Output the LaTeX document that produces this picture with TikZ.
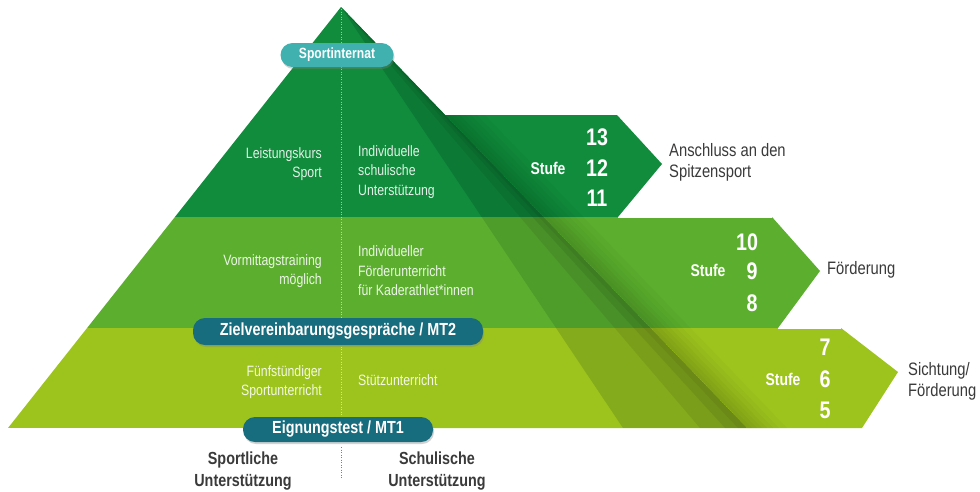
\documentclass[tikz,border=0pt]{standalone}
\usepackage{fontspec}
\setmainfont{Liberation Sans}[FakeStretch=0.82]
\usetikzlibrary{shadows}
\definecolor{gTop}{HTML}{118C3C}
\definecolor{gMid}{HTML}{5CAF2E}
\definecolor{gBot}{HTML}{9DC41D}
\definecolor{fTop}{HTML}{0C7A35}
\definecolor{fMid}{HTML}{4E9C2A}
\definecolor{fBot}{HTML}{84AB1C}
\definecolor{tealL}{HTML}{40B1AF}
\definecolor{tealD}{HTML}{176C7D}
\definecolor{txtgray}{HTML}{3A3A3A}
\begin{document}
\begin{tikzpicture}[x=1pt,y=-1pt,
  pill/.style={rectangle, rounded corners=12pt, text=white, inner sep=0pt,
    drop shadow={shadow xshift=1pt, shadow yshift=-2pt, opacity=0.35}},
  intext/.style={text=white, text opacity=0.88, inner sep=0pt,
    font=\fontsize{15}{19.5}\selectfont},
  stufe/.style={text=white, inner sep=0pt, font=\bfseries\fontsize{17}{17}\selectfont},
  num/.style={text=white, inner sep=0pt, font=\bfseries\fontsize{24}{24}\selectfont},
  sidelabel/.style={text=txtgray, inner sep=0pt, align=left, anchor=west,
    font=\fontsize{18}{21}\selectfont},
  bottomlabel/.style={text=txtgray, inner sep=0pt, align=center,
    font=\bfseries\fontsize{17.5}{22}\selectfont}]
\useasboundingbox (0,0) rectangle (980,491);
\fill[white] (0,0) rectangle (980,491);

% chevrons
\fill[gTop] (400,115) -- (617,115) -- (662,164) -- (618,217) -- (400,217) -- cycle;
\fill[gMid] (400,217) -- (772,217) -- (820,271) -- (778,328) -- (400,328) -- cycle;
\fill[gBot] (400,328) -- (841,328) -- (898,372) -- (862,428) -- (400,428) -- cycle;
\draw[white, line width=0.8pt] (618,217) -- (772,217);
\draw[white, line width=0.8pt] (778,328) -- (841,328);

% soft shadow right of the pyramid edge
\begin{scope}
\clip (0,115) rectangle (980,428);
\foreach \d in {5,10,15,20,26,32,40}{
  \fill[black, opacity=0.022] (341,7) -- (747,428) -- (747+\d,428) -- (341+\d,7) -- cycle;
}
\end{scope}

% pyramid front with bands
\begin{scope}
\clip (341,7) -- (8,428) -- (747,428) -- cycle;
\fill[gTop] (0,0) rectangle (980,217);
\fill[gMid] (0,217) rectangle (980,328);
\fill[gBot] (0,328) rectangle (980,428);
\clip (341,7) -- (623,428) -- (747,428) -- cycle;
\fill[fTop] (0,0) rectangle (980,217);
\fill[fMid] (0,217) rectangle (980,328);
\fill[fBot] (0,328) rectangle (980,428);
\fill[black, opacity=0.07] (341,7) -- (700,428) -- (747,428) -- cycle;
\fill[black, opacity=0.07] (341,7) -- (725,428) -- (747,428) -- cycle;
\fill[black, opacity=0.06] (341,7) -- (738,428) -- (747,428) -- cycle;
\end{scope}

% centre dotted line
\coordinate (apex) at (341,9);
\coordinate (base) at (341,426);
\coordinate (lowtop) at (341,447);
\coordinate (lowend) at (341,478);
\draw[white, opacity=0.55, line width=0.6pt, dash pattern=on 1pt off 1.5pt] (apex) -- (base);
\draw[gray, line width=0.7pt, dash pattern=on 1pt off 1.5pt] (lowtop) -- (lowend);

% texts inside pyramid
\node[intext, anchor=east, align=right] (ls) at (322,164) {Leistungskurs\\Sport};
\node[intext, anchor=west, align=left] (is) at (358,172) {Individuelle\\schulische\\Unterstützung};
\node[intext, anchor=east, align=right] (vt) at (322,271) {Vormittagstraining\\möglich};
\node[intext, anchor=west, align=left] (if) at (358,271) {Individueller\\Förderunterricht\\für Kaderathlet*innen};
\node[intext, anchor=east, align=right] (fs) at (322,382) {Fünfstündiger\\Sportunterricht};
\node[intext, anchor=west, align=left] (su) at (358,380) {Stützunterricht};

% pills
\node[pill, fill=tealL, minimum width=113pt, minimum height=24pt,
  font=\bfseries\fontsize{14.8}{14.8}\selectfont] (si) at (337,55) {Sportinternat};
\node[pill, fill=tealD, minimum width=290pt, minimum height=27pt,
  font=\bfseries\fontsize{17.5}{17.5}\selectfont] (mt2) at (338,331.5) {Zielvereinbarungsgespräche / MT2};
\node[pill, fill=tealD, minimum width=190pt, minimum height=25pt,
  font=\bfseries\fontsize{17.5}{17.5}\selectfont] (mt1) at (338,429.5) {Eignungstest / MT1};

% Stufe labels
\node[stufe] (s1) at (548,168) {Stufe};
\node[num] (n13) at (597,137) {13};
\node[num] (n12) at (597,168) {12};
\node[num] (n11) at (597,198) {11};
\node[stufe] (s2) at (708,270) {Stufe};
\node[num] (n10) at (747,242) {10};
\node[num] (n9) at (752,271) {9};
\node[num] (n8) at (752,303) {8};
\node[stufe] (s3) at (783,379) {Stufe};
\node[num] (n7) at (825,347) {7};
\node[num] (n6) at (825,379) {6};
\node[num] (n5) at (825,410) {5};

% side labels
\node[sidelabel] (l1) at (669,162) {Anschluss an den\\Spitzensport};
\node[sidelabel] (l2) at (827,270) {Förderung};
\node[sidelabel] (l3) at (908,381) {Sichtung/\\Förderung};

% bottom labels
\node[bottomlabel] (b1) at (243,471) {Sportliche\\Unterstützung};
\node[bottomlabel] (b2) at (437,471) {Schulische\\Unterstützung};
\end{tikzpicture}
\end{document}
